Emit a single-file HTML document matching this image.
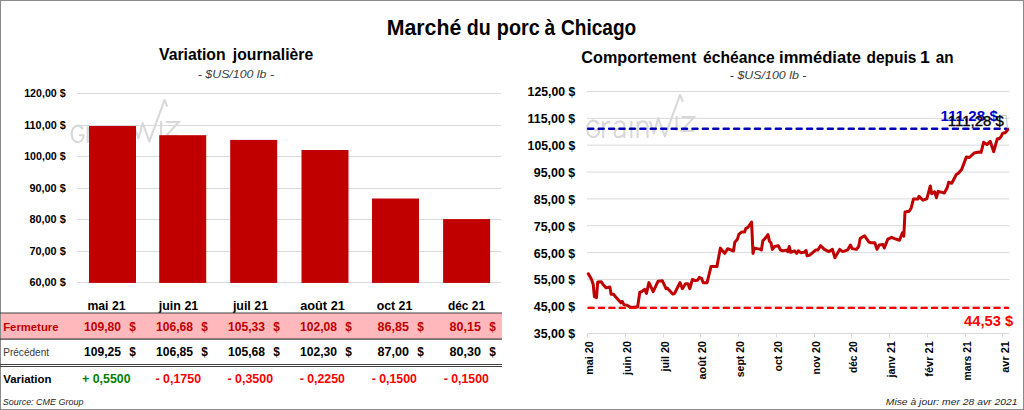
<!DOCTYPE html>
<html><head><meta charset="utf-8"><title>Marché du porc à Chicago</title>
<style>
html,body{margin:0;padding:0;background:#fff;}
body{width:1024px;height:410px;overflow:hidden;position:relative;}
svg{position:absolute;left:0;top:0;display:block;}
text{font-family:"Liberation Sans",sans-serif;}
</style></head>
<body>
<svg width="1024" height="410" viewBox="0 0 1024 410">
<rect x="0.5" y="0.5" width="1023" height="409" fill="#fff" stroke="#8a8a8a" stroke-width="1"/>
<text x="386.78" y="34.70" font-size="21.5" font-weight="bold" font-style="normal" fill="#000" text-anchor="start" textLength="74.55" lengthAdjust="spacingAndGlyphs" >Marché</text>
<text x="466.69" y="34.70" font-size="21.5" font-weight="bold" font-style="normal" fill="#000" text-anchor="start" textLength="24.00" lengthAdjust="spacingAndGlyphs" >du</text>
<text x="496.80" y="34.70" font-size="21.5" font-weight="bold" font-style="normal" fill="#000" text-anchor="start" textLength="42.88" lengthAdjust="spacingAndGlyphs" >porc</text>
<text x="544.41" y="34.70" font-size="21.5" font-weight="bold" font-style="normal" fill="#000" text-anchor="start" textLength="10.74" lengthAdjust="spacingAndGlyphs" >à</text>
<text x="561.02" y="34.70" font-size="21.5" font-weight="bold" font-style="normal" fill="#000" text-anchor="start" textLength="75.23" lengthAdjust="spacingAndGlyphs" >Chicago</text>
<text x="158.99" y="59.80" font-size="15.7" font-weight="bold" font-style="normal" fill="#000" text-anchor="start" textLength="66.67" lengthAdjust="spacingAndGlyphs" >Variation</text>
<text x="232.85" y="59.80" font-size="15.7" font-weight="bold" font-style="normal" fill="#000" text-anchor="start" textLength="80.29" lengthAdjust="spacingAndGlyphs" >journalière</text>
<text x="197.80" y="77.80" font-size="11.5" font-weight="normal" font-style="italic" fill="#404040" text-anchor="start" textLength="76.20" lengthAdjust="spacingAndGlyphs" >- $US/100 lb -</text>
<g transform="translate(-515.5,5)" fill="none" stroke="#d8d8d8" stroke-width="2.1" stroke-linejoin="miter"><path d="M598.4,124.2 A6.2,8.3 0 1 0 599,132.2 L599,130.2 L594.6,130.2"/><path d="M603.2,138 L603.2,121.3 M603.2,127 Q605.2,121.8 610.4,122.2"/><path d="M614.8,124 Q617,121.3 620,121.4 Q624.4,121.6 624.4,126 L624.4,138 M624.4,128.8 L619.6,128.8 Q614.6,129 614.6,133.5 Q614.8,137.2 618.8,137.2 Q622.6,137 624.4,133.6"/><path d="M631.4,121 L631.4,138"/><path d="M637.6,138 L637.6,121.2 M637.6,126.5 Q639.2,121.4 642.8,121.4 Q647.5,121.5 647.5,126.8 L647.5,138"/><polyline points="649.7,121 654,133.5 658.2,118 664.9,136.3 680.1,94.9 682.8,101.6" stroke-linejoin="round"/><path d="M676.6,116.2 L676.6,131"/><polyline points="681.4,117 694.2,117 681.6,130.9 694.4,130.9"/></g>
<line x1="77" y1="93.5" x2="501" y2="93.5" stroke="#d9d9d9" stroke-width="1" />
<line x1="77" y1="125.5" x2="501" y2="125.5" stroke="#d9d9d9" stroke-width="1" />
<line x1="77" y1="156.5" x2="501" y2="156.5" stroke="#d9d9d9" stroke-width="1" />
<line x1="77" y1="188.5" x2="501" y2="188.5" stroke="#d9d9d9" stroke-width="1" />
<line x1="77" y1="219.5" x2="501" y2="219.5" stroke="#d9d9d9" stroke-width="1" />
<line x1="77" y1="251.5" x2="501" y2="251.5" stroke="#d9d9d9" stroke-width="1" />
<line x1="77" y1="282.5" x2="501" y2="282.5" stroke="#d9d9d9" stroke-width="1" />
<rect x="89" y="126.00" width="47" height="156.90" fill="#c00000"/>
<rect x="159.2" y="135.20" width="47" height="147.70" fill="#c00000"/>
<rect x="230.2" y="139.90" width="47" height="143.00" fill="#c00000"/>
<rect x="301.5" y="150.00" width="47" height="132.90" fill="#c00000"/>
<rect x="372" y="198.50" width="47" height="84.40" fill="#c00000"/>
<rect x="443.1" y="219.10" width="47" height="63.80" fill="#c00000"/>
<text x="24.20" y="97.30" font-size="10.6" font-weight="bold" font-style="normal" fill="#000" text-anchor="start" textLength="41.50" lengthAdjust="spacingAndGlyphs" >120,00 $</text>
<text x="24.20" y="128.80" font-size="10.6" font-weight="bold" font-style="normal" fill="#000" text-anchor="start" textLength="41.50" lengthAdjust="spacingAndGlyphs" >110,00 $</text>
<text x="24.20" y="160.30" font-size="10.6" font-weight="bold" font-style="normal" fill="#000" text-anchor="start" textLength="41.50" lengthAdjust="spacingAndGlyphs" >100,00 $</text>
<text x="29.40" y="191.80" font-size="10.6" font-weight="bold" font-style="normal" fill="#000" text-anchor="start" textLength="36.30" lengthAdjust="spacingAndGlyphs" >90,00 $</text>
<text x="29.40" y="223.30" font-size="10.6" font-weight="bold" font-style="normal" fill="#000" text-anchor="start" textLength="36.30" lengthAdjust="spacingAndGlyphs" >80,00 $</text>
<text x="29.40" y="254.80" font-size="10.6" font-weight="bold" font-style="normal" fill="#000" text-anchor="start" textLength="36.30" lengthAdjust="spacingAndGlyphs" >70,00 $</text>
<text x="29.40" y="286.30" font-size="10.6" font-weight="bold" font-style="normal" fill="#000" text-anchor="start" textLength="36.30" lengthAdjust="spacingAndGlyphs" >60,00 $</text>
<text x="87.40" y="310.00" font-size="12.6" font-weight="bold" font-style="normal" fill="#000" text-anchor="start" textLength="38.20" lengthAdjust="spacingAndGlyphs" >mai 21</text>
<text x="158.75" y="310.00" font-size="12.6" font-weight="bold" font-style="normal" fill="#000" text-anchor="start" textLength="39.50" lengthAdjust="spacingAndGlyphs" >juin 21</text>
<text x="232.90" y="310.00" font-size="12.6" font-weight="bold" font-style="normal" fill="#000" text-anchor="start" textLength="35.20" lengthAdjust="spacingAndGlyphs" >juil 21</text>
<text x="300.15" y="310.00" font-size="12.6" font-weight="bold" font-style="normal" fill="#000" text-anchor="start" textLength="44.70" lengthAdjust="spacingAndGlyphs" >août 21</text>
<text x="376.65" y="310.00" font-size="12.6" font-weight="bold" font-style="normal" fill="#000" text-anchor="start" textLength="35.70" lengthAdjust="spacingAndGlyphs" >oct 21</text>
<text x="448.00" y="310.00" font-size="12.6" font-weight="bold" font-style="normal" fill="#000" text-anchor="start" textLength="37.00" lengthAdjust="spacingAndGlyphs" >déc 21</text>
<rect x="1" y="313" width="501" height="26" fill="#ffb9bd"/>
<line x1="0" y1="313.0" x2="502" y2="313.0" stroke="#404040" stroke-width="1.2" />
<line x1="0" y1="339.2" x2="502" y2="339.2" stroke="#404040" stroke-width="1.2" />
<line x1="0" y1="364.5" x2="502" y2="364.5" stroke="#404040" stroke-width="1" />
<line x1="0" y1="366.5" x2="502" y2="366.5" stroke="#404040" stroke-width="1" />
<text x="3.20" y="330.60" font-size="10.3" font-weight="bold" font-style="normal" fill="#c00000" text-anchor="start" textLength="55.30" lengthAdjust="spacingAndGlyphs" >Fermeture</text>
<text x="3.20" y="356.10" font-size="10.4" font-weight="normal" font-style="normal" fill="#3a3a3a" text-anchor="start" textLength="45.90" lengthAdjust="spacingAndGlyphs" >Précédent</text>
<text x="3.20" y="382.60" font-size="10.7" font-weight="bold" font-style="normal" fill="#000" text-anchor="start" textLength="48.30" lengthAdjust="spacingAndGlyphs" >Variation</text>
<text x="84.00" y="330.60" font-size="12.4" font-weight="bold" font-style="normal" fill="#c00000" text-anchor="start" textLength="37.00" lengthAdjust="spacingAndGlyphs" >109,80</text>
<text x="129.30" y="330.70" font-size="13.6" font-weight="bold" font-style="normal" fill="#c00000" text-anchor="start" textLength="6.60" lengthAdjust="spacingAndGlyphs" >$</text>
<text x="156.00" y="330.60" font-size="12.4" font-weight="bold" font-style="normal" fill="#c00000" text-anchor="start" textLength="37.00" lengthAdjust="spacingAndGlyphs" >106,68</text>
<text x="201.30" y="330.70" font-size="13.6" font-weight="bold" font-style="normal" fill="#c00000" text-anchor="start" textLength="6.60" lengthAdjust="spacingAndGlyphs" >$</text>
<text x="228.00" y="330.60" font-size="12.4" font-weight="bold" font-style="normal" fill="#c00000" text-anchor="start" textLength="37.00" lengthAdjust="spacingAndGlyphs" >105,33</text>
<text x="273.30" y="330.70" font-size="13.6" font-weight="bold" font-style="normal" fill="#c00000" text-anchor="start" textLength="6.60" lengthAdjust="spacingAndGlyphs" >$</text>
<text x="300.00" y="330.60" font-size="12.4" font-weight="bold" font-style="normal" fill="#c00000" text-anchor="start" textLength="37.00" lengthAdjust="spacingAndGlyphs" >102,08</text>
<text x="345.30" y="330.70" font-size="13.6" font-weight="bold" font-style="normal" fill="#c00000" text-anchor="start" textLength="6.60" lengthAdjust="spacingAndGlyphs" >$</text>
<text x="377.60" y="330.60" font-size="12.4" font-weight="bold" font-style="normal" fill="#c00000" text-anchor="start" textLength="31.40" lengthAdjust="spacingAndGlyphs" >86,85</text>
<text x="417.30" y="330.70" font-size="13.6" font-weight="bold" font-style="normal" fill="#c00000" text-anchor="start" textLength="6.60" lengthAdjust="spacingAndGlyphs" >$</text>
<text x="449.60" y="330.60" font-size="12.4" font-weight="bold" font-style="normal" fill="#c00000" text-anchor="start" textLength="31.40" lengthAdjust="spacingAndGlyphs" >80,15</text>
<text x="489.30" y="330.70" font-size="13.6" font-weight="bold" font-style="normal" fill="#c00000" text-anchor="start" textLength="6.60" lengthAdjust="spacingAndGlyphs" >$</text>
<text x="84.00" y="356.00" font-size="12.4" font-weight="bold" font-style="normal" fill="#000" text-anchor="start" textLength="37.00" lengthAdjust="spacingAndGlyphs" >109,25</text>
<text x="129.30" y="356.10" font-size="13.6" font-weight="bold" font-style="normal" fill="#000" text-anchor="start" textLength="6.60" lengthAdjust="spacingAndGlyphs" >$</text>
<text x="156.00" y="356.00" font-size="12.4" font-weight="bold" font-style="normal" fill="#000" text-anchor="start" textLength="37.00" lengthAdjust="spacingAndGlyphs" >106,85</text>
<text x="201.30" y="356.10" font-size="13.6" font-weight="bold" font-style="normal" fill="#000" text-anchor="start" textLength="6.60" lengthAdjust="spacingAndGlyphs" >$</text>
<text x="228.00" y="356.00" font-size="12.4" font-weight="bold" font-style="normal" fill="#000" text-anchor="start" textLength="37.00" lengthAdjust="spacingAndGlyphs" >105,68</text>
<text x="273.30" y="356.10" font-size="13.6" font-weight="bold" font-style="normal" fill="#000" text-anchor="start" textLength="6.60" lengthAdjust="spacingAndGlyphs" >$</text>
<text x="300.00" y="356.00" font-size="12.4" font-weight="bold" font-style="normal" fill="#000" text-anchor="start" textLength="37.00" lengthAdjust="spacingAndGlyphs" >102,30</text>
<text x="345.30" y="356.10" font-size="13.6" font-weight="bold" font-style="normal" fill="#000" text-anchor="start" textLength="6.60" lengthAdjust="spacingAndGlyphs" >$</text>
<text x="377.60" y="356.00" font-size="12.4" font-weight="bold" font-style="normal" fill="#000" text-anchor="start" textLength="31.40" lengthAdjust="spacingAndGlyphs" >87,00</text>
<text x="417.30" y="356.10" font-size="13.6" font-weight="bold" font-style="normal" fill="#000" text-anchor="start" textLength="6.60" lengthAdjust="spacingAndGlyphs" >$</text>
<text x="449.60" y="356.00" font-size="12.4" font-weight="bold" font-style="normal" fill="#000" text-anchor="start" textLength="31.40" lengthAdjust="spacingAndGlyphs" >80,30</text>
<text x="489.30" y="356.10" font-size="13.6" font-weight="bold" font-style="normal" fill="#000" text-anchor="start" textLength="6.60" lengthAdjust="spacingAndGlyphs" >$</text>
<text x="82.10" y="382.60" font-size="12.4" font-weight="bold" font-style="normal" fill="#008000" text-anchor="start" textLength="48.40" lengthAdjust="spacingAndGlyphs" xml:space="preserve">+ 0,5500</text>
<text x="155.55" y="382.60" font-size="12.4" font-weight="bold" font-style="normal" fill="#ff0000" text-anchor="start" textLength="45.50" lengthAdjust="spacingAndGlyphs" xml:space="preserve">- 0,1750</text>
<text x="227.45" y="382.60" font-size="12.4" font-weight="bold" font-style="normal" fill="#ff0000" text-anchor="start" textLength="45.70" lengthAdjust="spacingAndGlyphs" xml:space="preserve">- 0,3500</text>
<text x="299.65" y="382.60" font-size="12.4" font-weight="bold" font-style="normal" fill="#ff0000" text-anchor="start" textLength="45.30" lengthAdjust="spacingAndGlyphs" xml:space="preserve">- 0,2250</text>
<text x="371.65" y="382.60" font-size="12.4" font-weight="bold" font-style="normal" fill="#ff0000" text-anchor="start" textLength="45.30" lengthAdjust="spacingAndGlyphs" xml:space="preserve">- 0,1500</text>
<text x="443.65" y="382.60" font-size="12.4" font-weight="bold" font-style="normal" fill="#ff0000" text-anchor="start" textLength="45.30" lengthAdjust="spacingAndGlyphs" xml:space="preserve">- 0,1500</text>
<text x="2.70" y="404.50" font-size="9.7" font-weight="normal" font-style="italic" fill="#262626" text-anchor="start" textLength="80.80" lengthAdjust="spacingAndGlyphs" >Source: CME Group</text>
<text x="581.34" y="63.00" font-size="15.7" font-weight="bold" font-style="normal" fill="#000" text-anchor="start" textLength="115.06" lengthAdjust="spacingAndGlyphs" >Comportement</text>
<text x="703.09" y="63.00" font-size="15.7" font-weight="bold" font-style="normal" fill="#000" text-anchor="start" textLength="71.55" lengthAdjust="spacingAndGlyphs" >échéance</text>
<text x="779.04" y="63.00" font-size="15.7" font-weight="bold" font-style="normal" fill="#000" text-anchor="start" textLength="81.82" lengthAdjust="spacingAndGlyphs" >immédiate</text>
<text x="866.57" y="63.00" font-size="15.7" font-weight="bold" font-style="normal" fill="#000" text-anchor="start" textLength="49.77" lengthAdjust="spacingAndGlyphs" >depuis</text>
<text x="920.09" y="63.00" font-size="15.7" font-weight="bold" font-style="normal" fill="#000" text-anchor="start" textLength="9.80" lengthAdjust="spacingAndGlyphs" >1</text>
<text x="935.75" y="63.00" font-size="15.7" font-weight="bold" font-style="normal" fill="#000" text-anchor="start" textLength="17.79" lengthAdjust="spacingAndGlyphs" >an</text>
<text x="729.80" y="79.00" font-size="11.5" font-weight="normal" font-style="italic" fill="#404040" text-anchor="start" textLength="76.60" lengthAdjust="spacingAndGlyphs" >- $US/100 lb -</text>
<g transform="translate(0,0)" fill="none" stroke="#d8d8d8" stroke-width="2.1" stroke-linejoin="miter"><path d="M598.4,124.2 A6.2,8.3 0 1 0 599,132.2 L599,130.2 L594.6,130.2"/><path d="M603.2,138 L603.2,121.3 M603.2,127 Q605.2,121.8 610.4,122.2"/><path d="M614.8,124 Q617,121.3 620,121.4 Q624.4,121.6 624.4,126 L624.4,138 M624.4,128.8 L619.6,128.8 Q614.6,129 614.6,133.5 Q614.8,137.2 618.8,137.2 Q622.6,137 624.4,133.6"/><path d="M631.4,121 L631.4,138"/><path d="M637.6,138 L637.6,121.2 M637.6,126.5 Q639.2,121.4 642.8,121.4 Q647.5,121.5 647.5,126.8 L647.5,138"/><polyline points="649.7,121 654,133.5 658.2,118 664.9,136.3 680.1,94.9 682.8,101.6" stroke-linejoin="round"/><path d="M676.6,116.2 L676.6,131"/><polyline points="681.4,117 694.2,117 681.6,130.9 694.4,130.9"/></g>
<line x1="587" y1="91.5" x2="1009.3" y2="91.5" stroke="#d9d9d9" stroke-width="1" />
<text x="527.60" y="96.40" font-size="12.4" font-weight="bold" font-style="normal" fill="#000" text-anchor="start" textLength="47.60" lengthAdjust="spacingAndGlyphs" >125,00 $</text>
<line x1="587" y1="118.35" x2="1009.3" y2="118.35" stroke="#d9d9d9" stroke-width="1" />
<text x="527.60" y="123.25" font-size="12.4" font-weight="bold" font-style="normal" fill="#000" text-anchor="start" textLength="47.60" lengthAdjust="spacingAndGlyphs" >115,00 $</text>
<line x1="587" y1="145.2" x2="1009.3" y2="145.2" stroke="#d9d9d9" stroke-width="1" />
<text x="527.60" y="150.10" font-size="12.4" font-weight="bold" font-style="normal" fill="#000" text-anchor="start" textLength="47.60" lengthAdjust="spacingAndGlyphs" >105,00 $</text>
<line x1="587" y1="172.05" x2="1009.3" y2="172.05" stroke="#d9d9d9" stroke-width="1" />
<text x="533.80" y="176.95" font-size="12.4" font-weight="bold" font-style="normal" fill="#000" text-anchor="start" textLength="41.40" lengthAdjust="spacingAndGlyphs" >95,00 $</text>
<line x1="587" y1="198.9" x2="1009.3" y2="198.9" stroke="#d9d9d9" stroke-width="1" />
<text x="533.80" y="203.80" font-size="12.4" font-weight="bold" font-style="normal" fill="#000" text-anchor="start" textLength="41.40" lengthAdjust="spacingAndGlyphs" >85,00 $</text>
<line x1="587" y1="225.75" x2="1009.3" y2="225.75" stroke="#d9d9d9" stroke-width="1" />
<text x="533.80" y="230.65" font-size="12.4" font-weight="bold" font-style="normal" fill="#000" text-anchor="start" textLength="41.40" lengthAdjust="spacingAndGlyphs" >75,00 $</text>
<line x1="587" y1="252.60000000000002" x2="1009.3" y2="252.60000000000002" stroke="#d9d9d9" stroke-width="1" />
<text x="533.80" y="257.50" font-size="12.4" font-weight="bold" font-style="normal" fill="#000" text-anchor="start" textLength="41.40" lengthAdjust="spacingAndGlyphs" >65,00 $</text>
<line x1="587" y1="279.45000000000005" x2="1009.3" y2="279.45000000000005" stroke="#d9d9d9" stroke-width="1" />
<text x="533.80" y="284.35" font-size="12.4" font-weight="bold" font-style="normal" fill="#000" text-anchor="start" textLength="41.40" lengthAdjust="spacingAndGlyphs" >55,00 $</text>
<line x1="587" y1="306.3" x2="1009.3" y2="306.3" stroke="#d9d9d9" stroke-width="1" />
<text x="533.80" y="311.20" font-size="12.4" font-weight="bold" font-style="normal" fill="#000" text-anchor="start" textLength="41.40" lengthAdjust="spacingAndGlyphs" >45,00 $</text>
<line x1="587" y1="333.5" x2="1009.3" y2="333.5" stroke="#d9d9d9" stroke-width="1" />
<text x="533.80" y="338.40" font-size="12.4" font-weight="bold" font-style="normal" fill="#000" text-anchor="start" textLength="41.40" lengthAdjust="spacingAndGlyphs" >35,00 $</text>
<line x1="587.5" y1="333" x2="587.5" y2="337.5" stroke="#d9d9d9" stroke-width="1" />
<line x1="625.5" y1="333" x2="625.5" y2="337.5" stroke="#d9d9d9" stroke-width="1" />
<line x1="663.5" y1="333" x2="663.5" y2="337.5" stroke="#d9d9d9" stroke-width="1" />
<line x1="700.5" y1="333" x2="700.5" y2="337.5" stroke="#d9d9d9" stroke-width="1" />
<line x1="738.5" y1="333" x2="738.5" y2="337.5" stroke="#d9d9d9" stroke-width="1" />
<line x1="776.5" y1="333" x2="776.5" y2="337.5" stroke="#d9d9d9" stroke-width="1" />
<line x1="814.5" y1="333" x2="814.5" y2="337.5" stroke="#d9d9d9" stroke-width="1" />
<line x1="851.5" y1="333" x2="851.5" y2="337.5" stroke="#d9d9d9" stroke-width="1" />
<line x1="889.5" y1="333" x2="889.5" y2="337.5" stroke="#d9d9d9" stroke-width="1" />
<line x1="927.5" y1="333" x2="927.5" y2="337.5" stroke="#d9d9d9" stroke-width="1" />
<line x1="965.5" y1="333" x2="965.5" y2="337.5" stroke="#d9d9d9" stroke-width="1" />
<line x1="1002.5" y1="333" x2="1002.5" y2="337.5" stroke="#d9d9d9" stroke-width="1" />
<text transform="translate(593.10,341.2) rotate(-90)" x="0" y="0" font-size="10.8" font-weight="bold" fill="#000" text-anchor="end" textLength="33.5" lengthAdjust="spacingAndGlyphs">mai 20</text>
<text transform="translate(630.87,341.2) rotate(-90)" x="0" y="0" font-size="10.8" font-weight="bold" fill="#000" text-anchor="end" textLength="33.7" lengthAdjust="spacingAndGlyphs">juin 20</text>
<text transform="translate(668.64,341.2) rotate(-90)" x="0" y="0" font-size="10.8" font-weight="bold" fill="#000" text-anchor="end" textLength="30.3" lengthAdjust="spacingAndGlyphs">juil 20</text>
<text transform="translate(706.41,341.2) rotate(-90)" x="0" y="0" font-size="10.8" font-weight="bold" fill="#000" text-anchor="end" textLength="38.3" lengthAdjust="spacingAndGlyphs">août 20</text>
<text transform="translate(744.18,341.2) rotate(-90)" x="0" y="0" font-size="10.8" font-weight="bold" fill="#000" text-anchor="end" textLength="36" lengthAdjust="spacingAndGlyphs">sept 20</text>
<text transform="translate(781.95,341.2) rotate(-90)" x="0" y="0" font-size="10.8" font-weight="bold" fill="#000" text-anchor="end" textLength="30.3" lengthAdjust="spacingAndGlyphs">oct 20</text>
<text transform="translate(819.72,341.2) rotate(-90)" x="0" y="0" font-size="10.8" font-weight="bold" fill="#000" text-anchor="end" textLength="33.3" lengthAdjust="spacingAndGlyphs">nov 20</text>
<text transform="translate(857.49,341.2) rotate(-90)" x="0" y="0" font-size="10.8" font-weight="bold" fill="#000" text-anchor="end" textLength="31.9" lengthAdjust="spacingAndGlyphs">déc 20</text>
<text transform="translate(895.26,341.2) rotate(-90)" x="0" y="0" font-size="10.8" font-weight="bold" fill="#000" text-anchor="end" textLength="36.3" lengthAdjust="spacingAndGlyphs">janv 21</text>
<text transform="translate(933.03,341.2) rotate(-90)" x="0" y="0" font-size="10.8" font-weight="bold" fill="#000" text-anchor="end" textLength="35.5" lengthAdjust="spacingAndGlyphs">févr 21</text>
<text transform="translate(970.80,341.2) rotate(-90)" x="0" y="0" font-size="10.8" font-weight="bold" fill="#000" text-anchor="end" textLength="39.3" lengthAdjust="spacingAndGlyphs">mars 21</text>
<text transform="translate(1008.57,341.2) rotate(-90)" x="0" y="0" font-size="10.8" font-weight="bold" fill="#000" text-anchor="end" textLength="31.5" lengthAdjust="spacingAndGlyphs">avr 21</text>
<line x1="588.25" y1="128.8" x2="1007.7" y2="128.8" stroke="#0000b8" stroke-width="2.5" stroke-dasharray="5.0 5.42" stroke-linecap="round"/>
<polyline points="588.3,273.8 591.6,279.6 593.2,284.5 594.4,296.7 596.5,297.7 597.7,282.1 601.3,281.8 603.2,284.8 606.2,287.9 609.9,287 611.1,294.3 613.5,294.3 616.6,297.9 620.9,302.8 622.1,301.3 623.9,304.6 627,305.2 630.6,307.4 636.1,307.1 637.6,307.1 639.8,292.3 641.6,291.7 644.6,289.3 646.5,293.5 648.9,282.6 653.2,291.7 658,281.3 662.3,280.7 666,288.7 667.2,288 672.7,294.1 674.5,293.5 680,282.6 682.4,288.7 685.5,283.8 687.9,283.8 689.8,288.7 692.4,279.5 695.2,280.7 697.7,280.1 699.3,277.4 701.6,278.4 703.2,282.7 707.1,282.7 711,266.6 716.9,266.6 720.4,248.1 724.7,253.4 727.6,248.7 733.5,251 734.8,242.2 737.4,239.3 738.8,234.4 741.9,231.9 744.6,231.9 745.8,228.6 748.1,227.2 751.6,222.1 753,253.4 754.4,248.1 759.8,249.1 761.4,250 762.9,240.6 765.1,238.4 768,234.7 769.5,241.3 771,242.8 772.4,249.4 774.6,246.5 778.3,245.7 780.5,250.1 782.7,250.8 786.3,250.1 787.8,251.6 789.3,246.5 790.7,252.3 794.4,250.8 796.6,253.3 798.3,250.8 801,252.7 803.9,252.3 806.1,250.5 807.1,255.7 809.7,255.2 815.6,250.1 817.8,250.1 820.7,245.7 824.4,249.4 828.8,251.6 832.4,249.4 834.9,257.7 839.7,249.4 842.7,251.6 847.8,249.8 850.4,245 852.2,248.6 856.5,249.4 858.7,246.5 860.2,238.4 864.6,235.8 869,242.1 871.2,242.8 874.8,242.8 877,249.4 879.2,245 882.9,244.5 884.3,248 885.8,244.1 887.8,239.2 891.7,237.3 894.6,238.6 899.5,240.2 902.4,232.8 903.8,236.3 905,211.9 909.2,211.3 911.2,208 913.5,198.9 918,198.9 919,196.3 922.9,200.2 926.8,198.9 930.3,186 931.7,193.8 934.6,191.8 936.5,197.7 938.1,191.4 944.3,193 947.3,187.5 948.6,182.3 951.8,183.2 956.3,174.5 958.6,173.1 961.6,169.6 966.4,156.9 969.4,157.5 974.2,153 979.1,152 981.1,152.4 983.6,142.3 986.9,144.6 990.2,141.3 993.7,151.7 997.3,138.8 999.2,138.8 1001.2,136.4 1002.5,133.5 1005.4,132.5 1007.8,129.8" fill="none" stroke="#c00000" stroke-width="3.0" stroke-linejoin="round" stroke-linecap="round"/>
<line x1="588.5" y1="307.9" x2="1008.1" y2="307.9" stroke="#ff0000" stroke-width="2.4" stroke-dasharray="5.1 5.31" stroke-linecap="round"/>
<polyline points="1000.8,115.4 1006,115.4 1007.6,128.2" fill="none" stroke="#bfbfbf" stroke-width="1"/>
<text x="940.60" y="120.90" font-size="14.5" font-weight="bold" font-style="normal" fill="#0000cc" text-anchor="start" textLength="57.20" lengthAdjust="spacingAndGlyphs" >111,28 $</text>
<text x="947.80" y="126.00" font-size="14.5" font-weight="normal" font-style="normal" fill="#000" text-anchor="start" textLength="55.90" lengthAdjust="spacingAndGlyphs" stroke="#000" stroke-width="0.35">111,28 $</text>
<text x="964.00" y="325.70" font-size="14.8" font-weight="bold" font-style="normal" fill="#ff0000" text-anchor="start" textLength="49.20" lengthAdjust="spacingAndGlyphs" >44,53 $</text>
<text x="885.80" y="404.50" font-size="9.7" font-weight="normal" font-style="italic" fill="#262626" text-anchor="start" textLength="131.60" lengthAdjust="spacingAndGlyphs" >Mise à jour: mer 28 avr 2021</text>
</svg>
</body></html>
